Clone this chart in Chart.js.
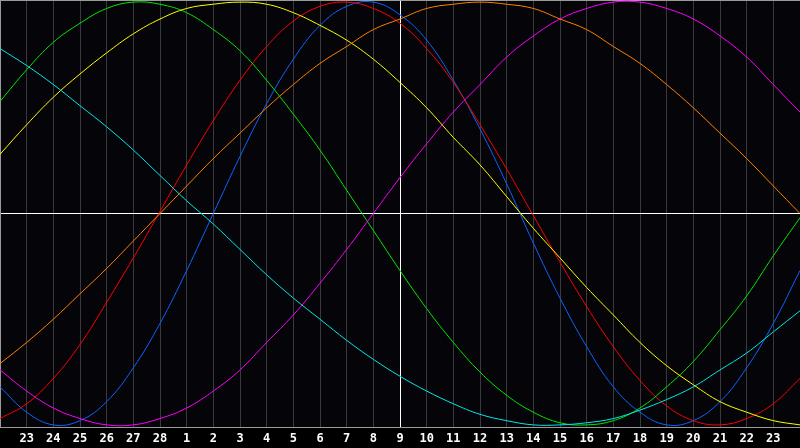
<!DOCTYPE html>
<html>
<head>
<meta charset="utf-8">
<script src="https://cdn.jsdelivr.net/npm/chart.js@4"></script>
<style>
  html, body { margin: 0; padding: 0; background: #000; }
  #chart { display: block; }
</style>
</head>
<body>
<canvas id="chart" width="800" height="448"></canvas>
<script>
// Days along the x axis (first and last are the plot edges, not labelled)
const days = ["22", "23", "24", "25", "26", "27", "28",
  "1", "2", "3", "4", "5", "6", "7", "8", "9", "10", "11", "12", "13", "14",
  "15", "16", "17", "18", "19", "20", "21", "22", "23", "24"];

// Cycle values per day, in percent
const physical = [-82, -94, -100, -98, -89, -73, -52, -27, 0, 27, 52, 73, 89, 98, 100, 94, 82, 63, 40, 14, -14, -40, -63, -82, -94, -100, -98, -89, -73, -52, -27];
const emotional = [-97, -90, -78, -62, -42, -21, 1, 23, 44, 63, 79, 91, 98, 100, 97, 90, 78, 62, 42, 21, -1, -23, -44, -63, -79, -91, -98, -100, -97, -90, -78];
const intellectual = [53, 68, 81, 90, 97, 100, 99, 95, 87, 77, 63, 47, 30, 11, -8, -27, -45, -61, -75, -86, -94, -99, -100, -98, -92, -82, -70, -55, -39, -20, -2];
const intuitive = [-74, -84, -92, -97, -100, -100, -97, -92, -84, -74, -61, -48, -33, -17, 0, 17, 33, 48, 61, 74, 84, 92, 97, 100, 100, 97, 92, 84, 74, 61, 48];
const aesthetic = [28, 42, 55, 66, 76, 85, 92, 97, 99, 100, 99, 95, 89, 82, 73, 62, 50, 36, 23, 8, -7, -21, -35, -48, -61, -72, -81, -89, -94, -98, -100];
const awareness = [-71, -61, -50, -38, -26, -13, 0, 13, 26, 38, 50, 61, 71, 79, 87, 92, 97, 99, 100, 99, 97, 92, 87, 79, 71, 61, 50, 38, 26, 13, 0];
const spiritual = [78, 70, 61, 51, 41, 30, 18, 6, -5, -17, -29, -40, -50, -60, -69, -77, -84, -90, -95, -98, -100, -100, -99, -97, -93, -88, -82, -74, -66, -56, -46];

const todayIndex = 15;

function line(label, values, color) {
  return {
    label: label,
    data: values,
    borderColor: color,
    borderWidth: 1,
    pointRadius: 0,
    tension: 0.4,
    fill: false
  };
}

new Chart(document.getElementById("chart"), {
  type: "line",
  data: {
    labels: days,
    datasets: [
      line("Spiritual", spiritual, "#00e8e8"),
      line("Awareness", awareness, "#ff8000"),
      line("Aesthetic", aesthetic, "#ffff00"),
      line("Intuitive", intuitive, "#ff00ff"),
      line("Intellectual", intellectual, "#00e800"),
      line("Emotional", emotional, "#ff0000"),
      line("Physical", physical, "#0a64ff")
    ]
  },
  options: {
    responsive: false,
    animation: false,
    layout: { padding: 0 },
    plugins: {
      legend: { display: false },
      tooltip: { enabled: false }
    },
    scales: {
      x: {
        offset: false,
        grid: {
          offset: false,
          drawTicks: false,
          color: (c) => c.index === todayIndex ? "#ffffff" : "#3a3a3e"
        },
        border: { color: "#9a9a9a" },
        ticks: {
          autoSkip: false,
          maxRotation: 0,
          padding: 5,
          color: "#ffffff",
          font: { family: "DejaVu Sans Mono", size: 12, weight: "bold" },
          callback: (v, i) => (i === 0 || i === days.length - 1) ? "" : days[i]
        },
        afterFit: (s) => {
          s.height = 21;
          s.paddingLeft = 0;
          s.paddingRight = 0;
        }
      },
      y: {
        min: -101,
        max: 101,
        afterBuildTicks: (s) => { s.ticks = [{ value: -101 }, { value: 0 }, { value: 101 }]; },
        grid: {
          drawTicks: false,
          color: (c) => c.tick.value === 0 ? "#ffffff" : "#9a9a9a"
        },
        border: { color: "#9a9a9a" },
        ticks: { display: false },
        afterFit: (s) => {
          s.width = 0;
          s.paddingTop = 0;
          s.paddingBottom = 0;
        }
      }
    }
  },
  plugins: [{
    id: "bg",
    beforeDraw: (chart) => {
      const c = chart.ctx;
      c.save();
      c.fillStyle = "#000000";
      c.fillRect(0, 0, chart.width, chart.height);
      const a = chart.chartArea;
      c.fillStyle = "#050408";
      c.fillRect(a.left, a.top, a.right - a.left, a.bottom - a.top);
      c.restore();
    }
  }]
});
</script>
</body>
</html>
